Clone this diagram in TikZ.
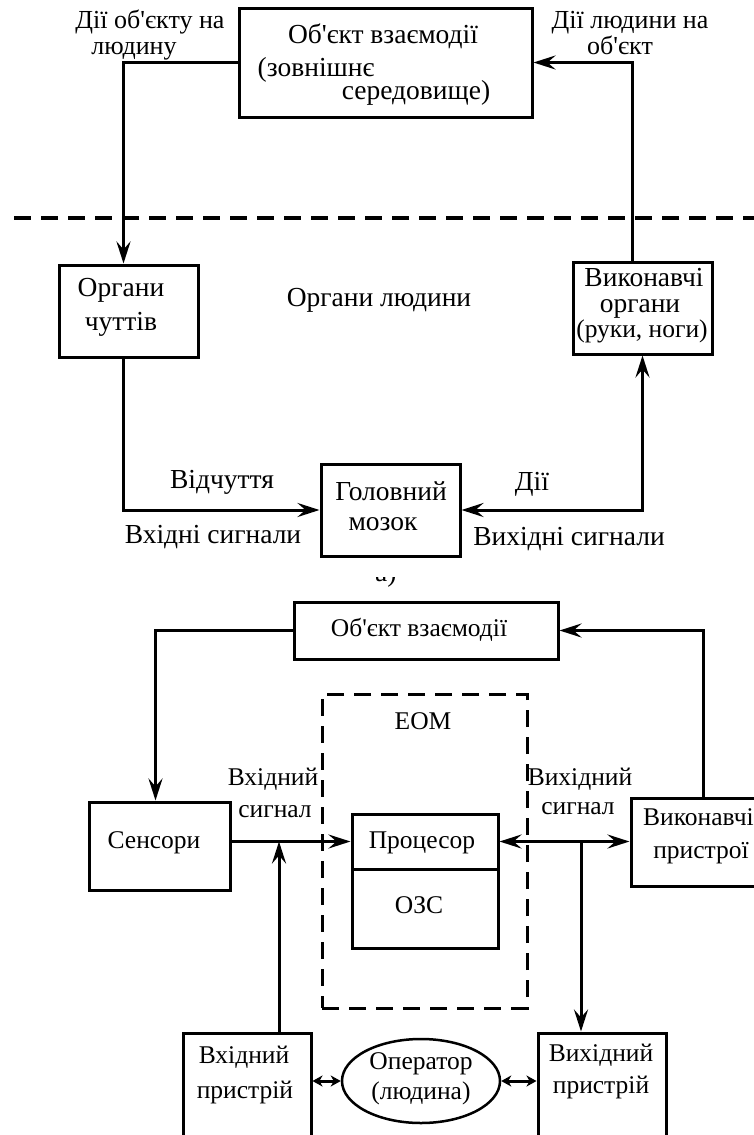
\documentclass[tikz,border=0pt]{standalone}
\usepackage{fontspec}
\setmainfont{Liberation Serif}
\usetikzlibrary{arrows.meta,shapes.geometric,calc}

\newcommand{\apo}{\textquotesingle}

\begin{document}
\begin{tikzpicture}[x=1pt,y=-1pt,
  box/.style={draw,line width=3pt,inner sep=0pt,rectangle},
  dbox/.style={draw,line width=3pt,inner sep=0pt,rectangle,dash pattern=on 17pt off 10pt},
  txt/.style={font=\fontsize{27.5}{30}\selectfont,inner sep=0pt,text height=14pt,text depth=2pt},
  ltxt/.style={font=\fontsize{26}{28}\selectfont,inner sep=0pt,text height=14pt,text depth=2pt},
  btxt/.style={font=\fontsize{25.5}{30}\selectfont,inner sep=0pt,text height=14pt,text depth=2pt},
  conn/.style={line width=3pt},
  tip/.style={-{Stealth[length=22pt,width=14pt,inset=8pt]}},
  tips/.style={{Stealth[length=22pt,width=14pt,inset=8pt]}-{Stealth[length=22pt,width=14pt,inset=8pt]}},
  smalltips/.style={{Stealth[length=10pt,width=11pt,inset=3pt]}-{Stealth[length=10pt,width=11pt,inset=3pt]}}
]
\useasboundingbox (0,0) rectangle (754,1135);
\clip (0,0) rectangle (754,1135);

% ---------- upper scheme: human ----------
\node[box,minimum width=293pt,minimum height=109pt] (obj) at (385.5,62.5) {};
\node[box,minimum width=139pt,minimum height=92pt] (org) at (128.5,311) {};
\node[box,minimum width=139pt,minimum height=92pt] (vyk) at (642.5,308) {};
\node[box,minimum width=139pt,minimum height=92pt] (brain) at (390.5,510) {};

\node[ltxt] (t1) at (150,22) {Дії об\apo єкту на};
\node[ltxt] (t2) at (134,48) {людину};
\node[txt] (t3) at (383,37) {Об\apo єкт взаємодії};
\node[txt] (t4) at (316,70) {(зовнішнє};
\node[txt] (t5) at (416,93) {середовище)};
\node[ltxt] (t6) at (630,22) {Дії людини на};
\node[ltxt] (t7) at (620,48) {об\apo єкт};
\node[txt] (t8) at (121,290) {Органи};
\node[txt] (t9) at (121,324) {чуттів};
\node[txt] (t10) at (379,300) {Органи людини};
\node[txt] (t11) at (644,280) {Виконавчі};
\node[txt] (t12) at (640,306) {органи};
\node[txt,font=\fontsize{25.5}{28}\selectfont] (t13) at (642,331) {(руки, ноги)};
\node[txt] (t14) at (391,494) {Головний};
\node[txt] (t15) at (383,524) {мозок};
\node[txt] (t16) at (222,482) {Відчуття};
\node[txt] (t17) at (213,537) {Вхідні сигнали};
\node[txt] (t18) at (532,484) {Дії};
\node[txt] (t19) at (569,539) {Вихідні сигнали};

% separator between the two schemes
\draw[line width=4pt,dash pattern=on 17pt off 10pt] (14,218) coordinate (sepL) -- (754,218) coordinate (sepR);

\draw[conn,tip] (obj.west) -| ([xshift=-5pt]org.north);
\draw[conn,tip] ([xshift=-10pt]vyk.north) |- (obj.east);
\draw[conn,tip] ([xshift=-5pt]org.south) |- (brain.west);
\draw[conn,tips] (brain.east) -| (vyk.south);

% caption of the upper scheme, lower part only
\begin{scope}
  \clip (360,577) rectangle (420,600);
  \node[txt,anchor=base west] (cap) at (375,581) {а)};
\end{scope}

% ---------- lower scheme: computer ----------
\node[box,minimum width=264pt,minimum height=57pt] (obj2) at (426,630.5) {};
\node[dbox,minimum width=205pt,minimum height=314pt] (eom) at (424.5,851) {};
\node[box,minimum width=141pt,minimum height=88pt] (sens) at (159.5,846) {};
\node[box,minimum width=146pt,minimum height=55pt] (proc) at (425,841.5) {};
\node[box,minimum width=146pt,minimum height=79pt] (ozs) at (425,908.5) {};
\node[box,minimum width=144pt,minimum height=88pt] (vp) at (703,842) {};
\node[box,minimum width=128pt,minimum height=127pt] (vin) at (247,1096.5) {};
\node[box,minimum width=128pt,minimum height=127pt] (vout) at (602,1096.5) {};
\node[draw,line width=2.5pt,ellipse,minimum width=158pt,minimum height=84pt,inner sep=0pt] (op) at (421,1081) {};

\node[btxt] (b1) at (419,630) {Об\apo єкт взаємодії};
\node[btxt] (b2) at (423,723) {ЕОМ};
\node[btxt] (b3) at (273,779) {Вхідний};
\node[btxt] (b4) at (275,811) {сигнал};
\node[btxt] (b5) at (580,779) {Вихідний};
\node[btxt] (b6) at (578,808) {сигнал};
\node[btxt] (b7) at (154,842) {Сенсори};
\node[btxt] (b8) at (422,842) {Процесор};
\node[btxt] (b9) at (419,907) {ОЗС};
\node[btxt,anchor=west] (b10) at (643,819) {Виконавчі};
\node[btxt] (b11) at (701,852) {пристрої};
\node[btxt] (b12) at (244,1057) {Вхідний};
\node[btxt] (b13) at (245,1092) {пристрій};
\node[btxt] (b14) at (421,1063) {Оператор};
\node[btxt] (b15) at (421,1093) {(людина)};
\node[btxt] (b16) at (601,1055) {Вихідний};
\node[btxt] (b17) at (601,1087) {пристрій};

\coordinate (j1) at (279,841.5);
\coordinate (j2) at (581,841.5);

\draw[conn,tip] (obj2.west) -| ([xshift=-4pt]sens.north);
\draw[conn,tip] (vp.north) |- (obj2.east);
\draw[conn,tip] (sens.east |- proc.west) -- (proc.west);
\draw[conn,tip] (j1 |- vin.north) -- (j1);
\draw[conn,tips] (proc.east) -- (vp.west |- proc.east);
\draw[conn,tip] (j2) -- (j2 |- vout.north);
\draw[conn,smalltips] (vin.east |- op.west) -- (op.west);
\draw[conn,smalltips] (op.east) -- (vout.west |- op.east);
\end{tikzpicture}
\end{document}
